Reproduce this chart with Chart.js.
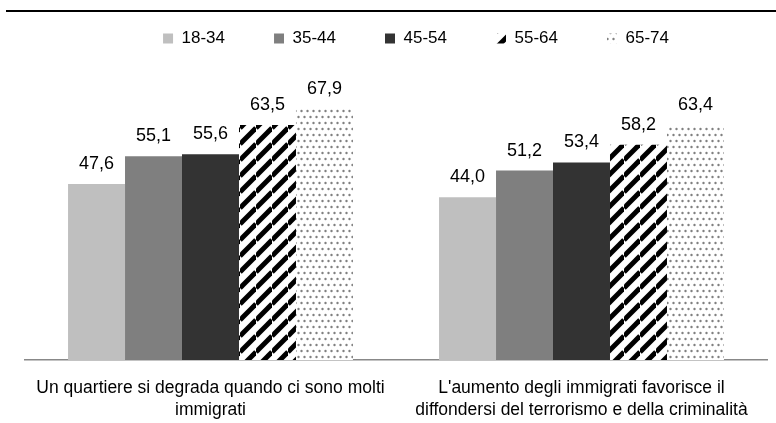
<!DOCTYPE html>
<html>
<head>
<meta charset="utf-8">
<script src="https://cdn.jsdelivr.net/npm/chart.js@4.4.1/dist/chart.umd.min.js"></script>
<style>
  html, body { margin: 0; padding: 0; background: #fff; }
  #wrap { width: 776px; height: 423px; }
</style>
</head>
<body>
<div id="wrap"><canvas id="chart" width="776" height="423"></canvas></div>
<script>
// dati
const categorie = [
  ['Un quartiere si degrada quando ci sono molti', 'immigrati'],
  ['L\'aumento degli immigrati favorisce il', 'diffondersi del terrorismo e della criminalità']
];
const fasce = ['18-34', '35-44', '45-54', '55-64', '65-74'];
const v1834 = [47.6, 44.0];
const v3544 = [55.1, 51.2];
const v4554 = [55.6, 53.4];
const v5564 = [63.5, 58.2];
const v6574 = [67.9, 63.4];

const FONT = "'Liberation Sans', Arial, sans-serif";

// motivo a righe diagonali
function stripes() {
  const c = document.createElement('canvas');
  c.width = 16; c.height = 16;
  const g = c.getContext('2d');
  g.fillStyle = '#fff';
  g.fillRect(0, 0, 16, 16);
  g.strokeStyle = '#000';
  g.lineWidth = 5;
  for (let k = -1; k <= 1; k++) {
    g.beginPath();
    g.moveTo(0, 16 + k * 16);
    g.lineTo(16, k * 16);
    g.stroke();
  }
  return g.createPattern(c, 'repeat');
}

// motivo a puntini
function dots() {
  const c = document.createElement('canvas');
  c.width = 6; c.height = 12;
  const g = c.getContext('2d');
  g.fillStyle = '#fff';
  g.fillRect(0, 0, 6, 12);
  g.fillStyle = '#808080';
  [[1.5, 3], [4.5, 9]].forEach(p => {
    g.beginPath();
    g.arc(p[0], p[1], 1.2, 0, Math.PI * 2);
    g.fill();
  });
  return g.createPattern(c, 'repeat');
}

const valori = [v1834, v3544, v4554, v5564, v6574];
const colori = ['#bfbfbf', '#7f7f7f', '#333333', stripes(), dots()];

// etichette sopra le barre
const etichette = {
  id: 'etichette',
  afterDatasetsDraw(chart) {
    const ctx = chart.ctx;
    ctx.save();
    ctx.font = '18px ' + FONT;
    ctx.fillStyle = '#000';
    ctx.textAlign = 'center';
    ctx.textBaseline = 'alphabetic';
    chart.data.datasets.forEach((ds, i) => {
      chart.getDatasetMeta(i).data.forEach((bar, j) => {
        ctx.fillText(ds.data[j].toFixed(1).replace('.', ','), bar.x, bar.y - 15);
      });
    });
    ctx.restore();
  }
};

// legenda più bassa e spostata, linea nera in alto
const impagina = {
  id: 'impagina',
  beforeInit(chart) {
    const fit = chart.legend.fit;
    chart.legend.fit = function () {
      fit.call(this);
      this.height = 64;
    };
  },
  afterLayout(chart) {
    chart.legend.top = -19;
    chart.legend.left += 20;
    chart.legend.right += 20;
  },
  afterDraw(chart) {
    const ctx = chart.ctx;
    ctx.save();
    ctx.fillStyle = '#000';
    ctx.fillRect(6, 10, 770, 2);
    ctx.restore();
  }
};

new Chart(document.getElementById('chart'), {
  type: 'bar',
  data: {
    labels: categorie,
    datasets: fasce.map((f, i) => ({
      label: f,
      data: valori[i],
      backgroundColor: colori[i],
      borderWidth: 0,
      categoryPercentage: 0.768,
      barPercentage: 1
    }))
  },
  options: {
    responsive: false,
    animation: false,
    layout: { padding: { left: 25, right: 9, top: 0, bottom: 0 } },
    plugins: {
      legend: {
        display: true,
        position: 'top',
        labels: {
          boxWidth: 10,
          boxHeight: 10,
          padding: 49,
          color: '#000',
          font: { family: FONT, size: 17 }
        }
      },
      tooltip: { enabled: false },
      title: { display: false }
    },
    scales: {
      x: {
        afterFit(scale) { scale.height = 63; },
        grid: { display: false, drawTicks: false },
        border: { color: '#888', width: 1.5 },
        ticks: {
          color: '#000',
          padding: 17,
          autoSkip: false,
          maxRotation: 0,
          font: { family: FONT, size: 17.5, lineHeight: 1.25 }
        }
      },
      y: {
        display: false,
        min: 0,
        max: 80
      }
    }
  },
  plugins: [etichette, impagina]
});
</script>
</body>
</html>
